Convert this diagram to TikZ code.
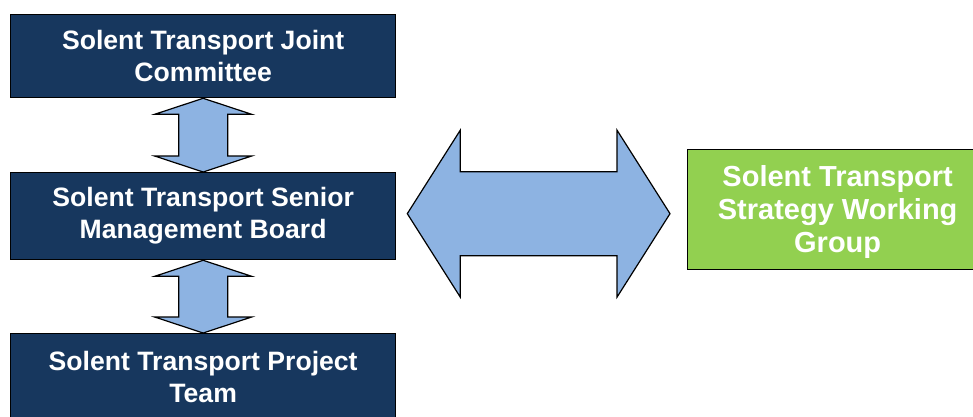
\documentclass[tikz,border=0pt]{standalone}
\usepackage{fontspec}
\setmainfont{Liberation Sans}
\usetikzlibrary{calc}
\definecolor{navy}{HTML}{17375E}
\definecolor{arrowblue}{HTML}{8DB3E2}
\definecolor{leafgreen}{HTML}{92D050}
\begin{document}
\begin{tikzpicture}[x=1pt,y=-1pt,
  board/.style={draw=black, line width=1.3pt, fill=navy, text=white,
    font=\bfseries\fontsize{26.6}{32}\selectfont, align=center,
    minimum width=385pt, inner sep=0pt, anchor=north west},
  group/.style={draw=black, line width=1.3pt, fill=leafgreen,
    minimum width=300pt, minimum height=120pt, inner sep=0pt, anchor=north west},
  grouptext/.style={text=white, font=\bfseries\fontsize{29}{33}\selectfont,
    align=center, inner sep=0pt},
  blockarrow/.style={draw=black, line width=1.2pt, fill=arrowblue, line join=miter}]
\useasboundingbox (0,0) rectangle (973,416);
\clip (0,0) rectangle (973,416);

% committee hierarchy
\node[board, minimum height=83pt] (joint) at (10,14)
  {Solent Transport Joint\\Committee};
\node[board, minimum height=87pt] (smb) at (10,172)
  {Solent Transport Senior\\Management Board};
\node[board, minimum height=87pt] (team) at (10,333)
  {Solent Transport Project\\Team};

% working group
\node[group] (swg) at (687,149) {};
\node[grouptext] (swglabel) at ($(swg.center)+(0,2.5)$)
  {Solent Transport\\Strategy Working\\Group};

% vertical two-way block arrows between the boards
\foreach \a/\b in {joint/smb, smb/team}{
  \draw[blockarrow] (\a.south) -- ++(48.5,16) -- ++(-24,0)
    -- ($(\b.north)+(24.5,-16)$) -- ++(24,0) -- (\b.north)
    -- ++(-48.5,-16) -- ++(24,0)
    -- ($(\a.south)+(-24.5,16)$) -- ++(-24,0) -- cycle;
}

% horizontal two-way block arrow between the board and the working group
\coordinate (lt) at ($(smb.east)+(11,-2.5)$);
\coordinate (rt) at ($(swg.west)+(-17,4)$);
\draw[blockarrow] (lt) -- ++(53,-83.5) -- ++(0,41.5)
  -- ($(rt)+(-53,-42)$) -- ++(0,-41.5) -- (rt)
  -- ++(-53,83.5) -- ++(0,-41.5)
  -- ($(lt)+(53,42)$) -- ++(0,41.5) -- cycle;
\end{tikzpicture}
\end{document}
